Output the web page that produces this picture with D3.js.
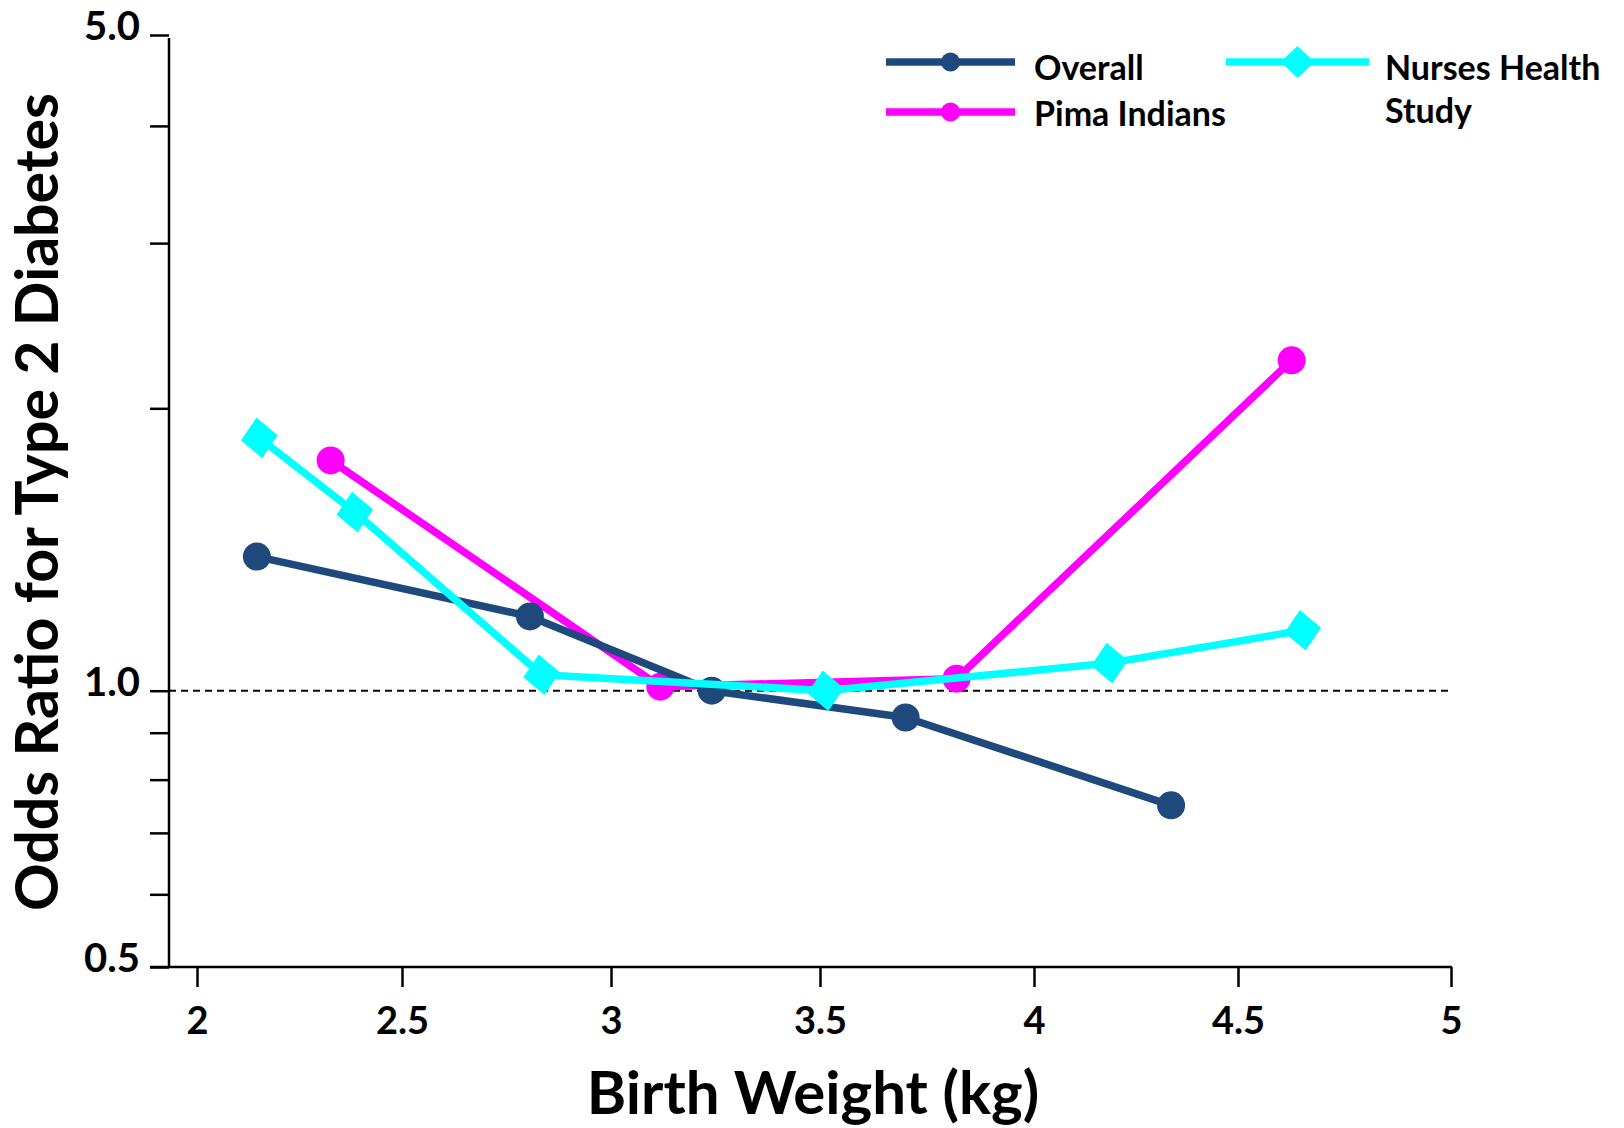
<!DOCTYPE html>
<html>
<head>
<meta charset="utf-8">
<script src="https://cdn.jsdelivr.net/npm/d3@7"></script>
<style>
  html, body { margin: 0; padding: 0; background: #ffffff; }
  svg text { font-family: Lato, "Open Sans", sans-serif; font-weight: 700; fill: #000; }
</style>
</head>
<body>
<svg id="chart" width="1624" height="1128"></svg>
<script>
// ---- data ----
const xTickValues = [2, 2.5, 3, 3.5, 4, 4.5, 5];
const yTickValues = [0.5, 0.6, 0.7, 0.8, 0.9, 1, 2, 3, 4, 5];
const yLabeledTicks = [0.5, 1.0, 5.0];

const overallX = [2.146, 2.806, 3.241, 3.70, 4.336];
const overallY = [1.39, 1.20, 1.00, 0.935, 0.75];

const pimaX = [2.326, 3.118, 3.819, 4.626];
const pimaY = [1.76, 1.01, 1.03, 2.25];

const nursesX = [2.152, 2.385, 2.834, 3.513, 4.185, 4.652];
const nursesY = [1.86, 1.55, 1.04, 1.00, 1.07, 1.16];

const seriesNames = ["Overall", "Pima Indians", "Nurses Health Study"];
const seriesColors = ["#1F497D", "#FF00FF", "#00FFFF"];
const seriesMarkers = ["circle", "circle", "diamond"];

const xTitle = "Birth Weight (kg)";
const yTitle = "Odds Ratio for Type 2 Diabetes";

// ---- layout ----
const svg = d3.select("#chart");
const axisX0 = 169;          // y-axis position
// the original axis is slightly uneven between ticks: piecewise-linear scale
const x = d3.scaleLinear().domain(xTickValues).range([197, 402, 611, 820, 1034, 1238, 1451]);
const y = d3.scaleLog().domain([0.5, 1, 5]).range([967, 690.7, 35]);
const plotBottom = y(0.5);

// reference line at 1.0
svg.append("line")
  .attr("x1", axisX0).attr("x2", x(5))
  .attr("y1", y(1)).attr("y2", y(1))
  .attr("stroke", "#000").attr("stroke-width", 2)
  .attr("stroke-dasharray", "7,5");

// y axis
const yAxis = d3.axisLeft(y)
  .tickValues(yTickValues)
  .tickSize(19).tickSizeOuter(0).tickPadding(10)
  .tickFormat(d => yLabeledTicks.includes(d) ? d3.format(".1f")(d) : "");
const gy = svg.append("g").attr("transform", `translate(${axisX0},0)`).call(yAxis);
gy.select(".domain").remove();
gy.selectAll(".tick line").attr("stroke", "#000").attr("stroke-width", 2.5);
gy.selectAll(".tick text")
  .attr("y", -8)
  .style("font-size", "40px")
  .style("font-family", "Lato, sans-serif").style("font-weight", 700);
svg.append("line")
  .attr("x1", axisX0).attr("x2", axisX0)
  .attr("y1", y(5) + 3).attr("y2", plotBottom)
  .attr("stroke", "#000").attr("stroke-width", 2.5);

// x axis
const xAxis = d3.axisBottom(x)
  .tickValues(xTickValues)
  .tickSize(20).tickSizeOuter(0)
  .tickFormat(d3.format("~g"));
const gx = svg.append("g").attr("transform", `translate(0,${plotBottom})`).call(xAxis);
gx.select(".domain").remove();
gx.selectAll(".tick line").attr("stroke", "#000").attr("stroke-width", 2.5);
gx.selectAll(".tick text")
  .attr("y", 53).attr("dy", "0.36em")
  .style("font-size", "38px")
  .style("font-family", "Lato, sans-serif").style("font-weight", 700);
svg.append("line")
  .attr("x1", axisX0 - 19).attr("x2", x(5) + 1)
  .attr("y1", plotBottom).attr("y2", plotBottom)
  .attr("stroke", "#000").attr("stroke-width", 2.5);

// titles
svg.append("text")
  .attr("x", 813).attr("y", 1114)
  .attr("text-anchor", "middle")
  .style("font-size", "60px")
  .text(xTitle);
svg.append("text")
  .attr("transform", "translate(58,502) rotate(-90)")
  .attr("text-anchor", "middle")
  .style("font-size", "59px")
  .text(yTitle);

// series
const series = [
  { xs: pimaX, ys: pimaY, i: 1 },
  { xs: overallX, ys: overallY, i: 0 },
  { xs: nursesX, ys: nursesY, i: 2 }
];
const line = d3.line().x(d => x(d[0])).y(d => y(d[1]));
const diamond = (hw, hh) => `M0,${-hh}L${hw},0L0,${hh}L${-hw},0Z`;

series.forEach(s => {
  const pts = s.xs.map((v, k) => [v, s.ys[k]]);
  const color = seriesColors[s.i];
  const g = svg.append("g");
  g.append("path").datum(pts)
    .attr("d", line).attr("fill", "none")
    .attr("stroke", color).attr("stroke-width", 7.5)
    .attr("stroke-linejoin", "round");
  if (seriesMarkers[s.i] === "circle") {
    g.selectAll("circle").data(pts).join("circle")
      .attr("cx", d => x(d[0])).attr("cy", d => y(d[1]))
      .attr("r", 14).attr("fill", color);
  } else {
    g.selectAll("path.m").data(pts).join("path").attr("class", "m")
      .attr("transform", d => `translate(${x(d[0])},${y(d[1])}) rotate(-8)`)
      .attr("d", diamond(18.5, 20.5)).attr("fill", color);
  }
});

// legend
const legendItems = [
  { i: 0, x1: 886, x2: 1015, ly: 62, tx: 1034, lines: ["Overall"], ty: 80 },
  { i: 1, x1: 886, x2: 1015, ly: 112, tx: 1034, lines: ["Pima Indians"], ty: 126 },
  { i: 2, x1: 1226, x2: 1369, ly: 62, tx: 1385, lines: ["Nurses Health", "Study"], ty: 80 }
];
legendItems.forEach(it => {
  const color = seriesColors[it.i];
  const g = svg.append("g");
  g.append("line")
    .attr("x1", it.x1).attr("x2", it.x2).attr("y1", it.ly).attr("y2", it.ly)
    .attr("stroke", color).attr("stroke-width", 7.5);
  const cx = (it.x1 + it.x2) / 2;
  if (seriesMarkers[it.i] === "circle") {
    g.append("circle").attr("cx", cx).attr("cy", it.ly).attr("r", 9.5).attr("fill", color);
  } else {
    g.append("path").attr("transform", `translate(${cx},${it.ly})`)
      .attr("d", diamond(17, 16)).attr("fill", color);
  }
  const t = g.append("text").attr("x", it.tx).attr("y", it.ty).style("font-size", "34px");
  it.lines.forEach((ln, k) => {
    t.append("tspan").attr("x", it.tx).attr("dy", k === 0 ? 0 : 43).text(ln);
  });
});
</script>
</body>
</html>
